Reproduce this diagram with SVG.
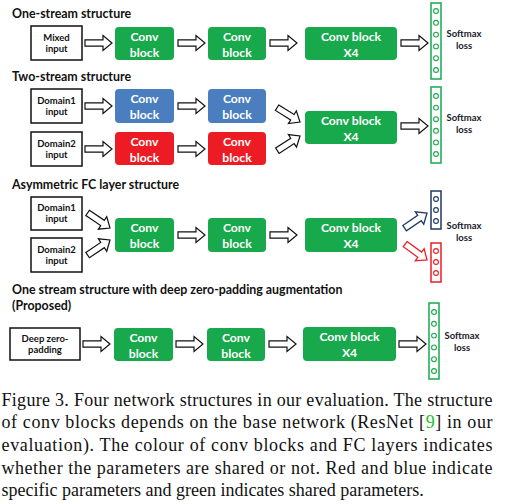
<svg xmlns="http://www.w3.org/2000/svg" width="517" height="504" viewBox="0 0 517 504">
<style>
.ttl{font-family:Lato,"Open Sans",sans-serif;font-weight:bold;font-size:12.4px;fill:#111}
.in{fill:#fff;stroke:#111;stroke-width:1.5}
.it{font-family:Lato,"Open Sans",sans-serif;font-weight:bold;font-size:9.5px;fill:#111;text-anchor:middle}
.g{fill:#17a94c}
.b{fill:#4a7ebf}
.r{fill:#ed1c24}
.ct{font-family:Lato,"Open Sans",sans-serif;font-weight:bold;font-size:12.2px;fill:#fff;text-anchor:middle}
.arr{fill:#fff;stroke:#111;stroke-width:1.2;stroke-linejoin:miter}
.arrN{fill:#fff;stroke:#1f3864;stroke-width:1.3}
.arrR{fill:#fff;stroke:#ed1c24;stroke-width:1.3}
.fcg{fill:#fff;stroke:#17a94c;stroke-width:1.5}
.fcn{fill:#fff;stroke:#1f3864;stroke-width:1.5}
.fcr{fill:#fff;stroke:#ed1c24;stroke-width:1.5}
.cg{fill:#fff;stroke:#17a94c;stroke-width:1.1}
.cn{fill:#fff;stroke:#1f3864;stroke-width:1.1}
.cr{fill:#fff;stroke:#ed1c24;stroke-width:1.1}
.sm{font-family:Lato,"Open Sans",sans-serif;font-weight:bold;font-size:9.5px;fill:#1a1a2a;text-anchor:middle}
.cap{font-family:"Liberation Serif","Times New Roman",serif;font-size:18px;fill:#111}
</style>
<defs>
<path id="ba" d="M0,-3.2 H18 V-7.5 L27,0 L18,7.5 V3.2 H0 Z"/>
</defs>

<!-- Titles -->
<text class="ttl" x="12" y="17.5">One-stream structure</text>
<text class="ttl" x="12" y="80.5">Two-stream structure</text>
<text class="ttl" x="12" y="189">Asymmetric FC layer structure</text>
<text class="ttl" x="12" y="294">One stream structure with deep zero-padding augmentation</text>
<text class="ttl" x="12" y="309.5">(Proposed)</text>

<!-- Row 1 -->
<g id="r1-input"><rect class="in" x="31" y="26" width="51" height="34"/><text class="it" x="56.5" y="40.5">Mixed</text><text class="it" x="56.5" y="51.5">input</text></g>
<g id="r1-conv1"><rect class="g" x="115" y="27" width="59" height="33" rx="4"/><text class="ct" x="144.5" y="40.5">Conv</text><text class="ct" x="144.5" y="56.5">block</text></g>
<g id="r1-conv2"><rect class="g" x="208" y="27" width="58" height="33" rx="4"/><text class="ct" x="237" y="40.5">Conv</text><text class="ct" x="237" y="56.5">block</text></g>
<g id="r1-conv4"><rect class="g" x="305" y="27" width="92" height="33" rx="4"/><text class="ct" x="351" y="40.5">Conv block</text><text class="ct" x="351" y="56.5">X4</text></g>
<g id="r1-fc"><rect class="fcg" x="431" y="3" width="10" height="76"/>
<circle class="cg" cx="436" cy="11" r="2.4"/><circle class="cg" cx="436" cy="22.8" r="2.4"/><circle class="cg" cx="436" cy="34.6" r="2.4"/><circle class="cg" cx="436" cy="46.4" r="2.4"/><circle class="cg" cx="436" cy="58.2" r="2.4"/><circle class="cg" cx="436" cy="70" r="2.4"/></g>
<g id="r1-loss"><text class="sm" x="464" y="36.5">Softmax</text><text class="sm" x="464" y="49">loss</text></g>

<!-- Row 2 -->
<g id="r2-input1"><rect class="in" x="31" y="89" width="51" height="34"/><text class="it" x="56.5" y="103.5">Domain1</text><text class="it" x="56.5" y="114.5">input</text></g>
<g id="r2-input2"><rect class="in" x="31" y="132" width="51" height="34"/><text class="it" x="56.5" y="146.5">Domain2</text><text class="it" x="56.5" y="157.5">input</text></g>
<g id="r2-blue1"><rect class="b" x="115" y="89" width="59" height="34" rx="4"/><text class="ct" x="144.5" y="102.5">Conv</text><text class="ct" x="144.5" y="118.5">block</text></g>
<g id="r2-blue2"><rect class="b" x="208" y="89" width="58" height="34" rx="4"/><text class="ct" x="237" y="102.5">Conv</text><text class="ct" x="237" y="118.5">block</text></g>
<g id="r2-red1"><rect class="r" x="115" y="132" width="59" height="33" rx="4"/><text class="ct" x="144.5" y="145.5">Conv</text><text class="ct" x="144.5" y="161.5">block</text></g>
<g id="r2-red2"><rect class="r" x="208" y="132" width="58" height="33" rx="4"/><text class="ct" x="237" y="145.5">Conv</text><text class="ct" x="237" y="161.5">block</text></g>
<g id="r2-conv4"><rect class="g" x="305" y="111" width="92" height="33" rx="4"/><text class="ct" x="351" y="124.5">Conv block</text><text class="ct" x="351" y="140.5">X4</text></g>
<g id="r2-fc"><rect class="fcg" x="431" y="87" width="10" height="76"/>
<circle class="cg" cx="436" cy="96" r="2.4"/><circle class="cg" cx="436" cy="107.6" r="2.4"/><circle class="cg" cx="436" cy="119.2" r="2.4"/><circle class="cg" cx="436" cy="130.8" r="2.4"/><circle class="cg" cx="436" cy="142.4" r="2.4"/><circle class="cg" cx="436" cy="154" r="2.4"/></g>
<g id="r2-loss"><text class="sm" x="464" y="120.5">Softmax</text><text class="sm" x="464" y="133">loss</text></g>

<!-- Row 3 -->
<g id="r3-input1"><rect class="in" x="31" y="197" width="51" height="33"/><text class="it" x="56.5" y="211">Domain1</text><text class="it" x="56.5" y="222">input</text></g>
<g id="r3-input2"><rect class="in" x="31" y="238" width="51" height="34"/><text class="it" x="56.5" y="252.5">Domain2</text><text class="it" x="56.5" y="263.5">input</text></g>
<g id="r3-conv1"><rect class="g" x="115" y="218" width="59" height="34" rx="4"/><text class="ct" x="144.5" y="231.5">Conv</text><text class="ct" x="144.5" y="247.5">block</text></g>
<g id="r3-conv2"><rect class="g" x="208" y="218" width="58" height="34" rx="4"/><text class="ct" x="237" y="231.5">Conv</text><text class="ct" x="237" y="247.5">block</text></g>
<g id="r3-conv4"><rect class="g" x="305" y="218" width="92" height="34" rx="4"/><text class="ct" x="351" y="231.5">Conv block</text><text class="ct" x="351" y="247.5">X4</text></g>
<g id="r3-fc1"><rect class="fcn" x="431" y="191" width="10" height="38"/>
<circle class="cn" cx="436" cy="199" r="2.4"/><circle class="cn" cx="436" cy="210" r="2.4"/><circle class="cn" cx="436" cy="221" r="2.4"/></g>
<g id="r3-fc2"><rect class="fcr" x="431" y="243" width="10" height="39"/>
<circle class="cr" cx="436" cy="251" r="2.4"/><circle class="cr" cx="436" cy="262" r="2.4"/><circle class="cr" cx="436" cy="273" r="2.4"/></g>
<g id="r3-loss"><text class="sm" x="464" y="228.5">Softmax</text><text class="sm" x="464" y="241">loss</text></g>

<!-- Row 4 -->
<g id="r4-input"><rect class="in" x="10" y="328" width="70" height="32"/><text class="it" x="45" y="341.5">Deep zero-</text><text class="it" x="45" y="352.5">padding</text></g>
<g id="r4-conv1"><rect class="g" x="114" y="328" width="59" height="33" rx="4"/><text class="ct" x="143.5" y="341.5">Conv</text><text class="ct" x="143.5" y="357.5">block</text></g>
<g id="r4-conv2"><rect class="g" x="207" y="328" width="58" height="33" rx="4"/><text class="ct" x="236" y="341.5">Conv</text><text class="ct" x="236" y="357.5">block</text></g>
<g id="r4-conv4"><rect class="g" x="303" y="327" width="93" height="34" rx="4"/><text class="ct" x="349.5" y="341">Conv block</text><text class="ct" x="349.5" y="357">X4</text></g>
<g id="r4-fc"><rect class="fcg" x="429" y="303" width="10" height="76"/>
<circle class="cg" cx="434" cy="312" r="2.4"/><circle class="cg" cx="434" cy="323.8" r="2.4"/><circle class="cg" cx="434" cy="335.6" r="2.4"/><circle class="cg" cx="434" cy="347.4" r="2.4"/><circle class="cg" cx="434" cy="359.2" r="2.4"/><circle class="cg" cx="434" cy="371" r="2.4"/></g>
<g id="r4-loss"><text class="sm" x="462" y="338.5">Softmax</text><text class="sm" x="462" y="351">loss</text></g>

<!-- Connectors -->
<g id="connectors">
<use href="#ba" class="arr" transform="translate(85,43)"/>
<use href="#ba" class="arr" transform="translate(178,43)"/>
<use href="#ba" class="arr" transform="translate(270,43)"/>
<use href="#ba" class="arr" transform="translate(401,43)"/>

<use href="#ba" class="arr" transform="translate(85,106)"/>
<use href="#ba" class="arr" transform="translate(178,106)"/>
<use href="#ba" class="arr" transform="translate(85,149)"/>
<use href="#ba" class="arr" transform="translate(178,149)"/>
<use href="#ba" class="arr" transform="translate(300,122) rotate(32) translate(-27,0)"/>
<use href="#ba" class="arr" transform="translate(300,136) rotate(-33) translate(-27,0)"/>
<use href="#ba" class="arr" transform="translate(401,126)"/>

<use href="#ba" class="arr" transform="translate(110,228) rotate(34) translate(-27,0)"/>
<use href="#ba" class="arr" transform="translate(110,240) rotate(-34) translate(-27,0)"/>
<use href="#ba" class="arr" transform="translate(178,235)"/>
<use href="#ba" class="arr" transform="translate(270,235)"/>
<use href="#ba" class="arrN" transform="translate(427,213) rotate(-34) translate(-27,0)"/>
<use href="#ba" class="arrR" transform="translate(427,260) rotate(36) translate(-27,0)"/>

<use href="#ba" class="arr" transform="translate(83,344)"/>
<use href="#ba" class="arr" transform="translate(176,344)"/>
<use href="#ba" class="arr" transform="translate(269,344)"/>
<use href="#ba" class="arr" transform="translate(399,344)"/>
</g>

<!-- Caption -->
<text class="cap" x="1.5" y="405.5" textLength="491" lengthAdjust="spacing">Figure 3. Four network structures in our evaluation. The structure</text>
<text class="cap" x="1.5" y="428.3" textLength="491" lengthAdjust="spacing">of conv blocks depends on the base network (ResNet [<tspan fill="#22c322">9</tspan>] in our</text>
<text class="cap" x="1.5" y="451" textLength="491" lengthAdjust="spacing">evaluation).  The colour of conv blocks and FC layers indicates</text>
<text class="cap" x="1.5" y="473.5" textLength="491" lengthAdjust="spacing">whether the parameters are shared or not.  Red and blue indicate</text>
<text class="cap" x="1.5" y="496">specific parameters and green indicates shared parameters.</text>
</svg>
